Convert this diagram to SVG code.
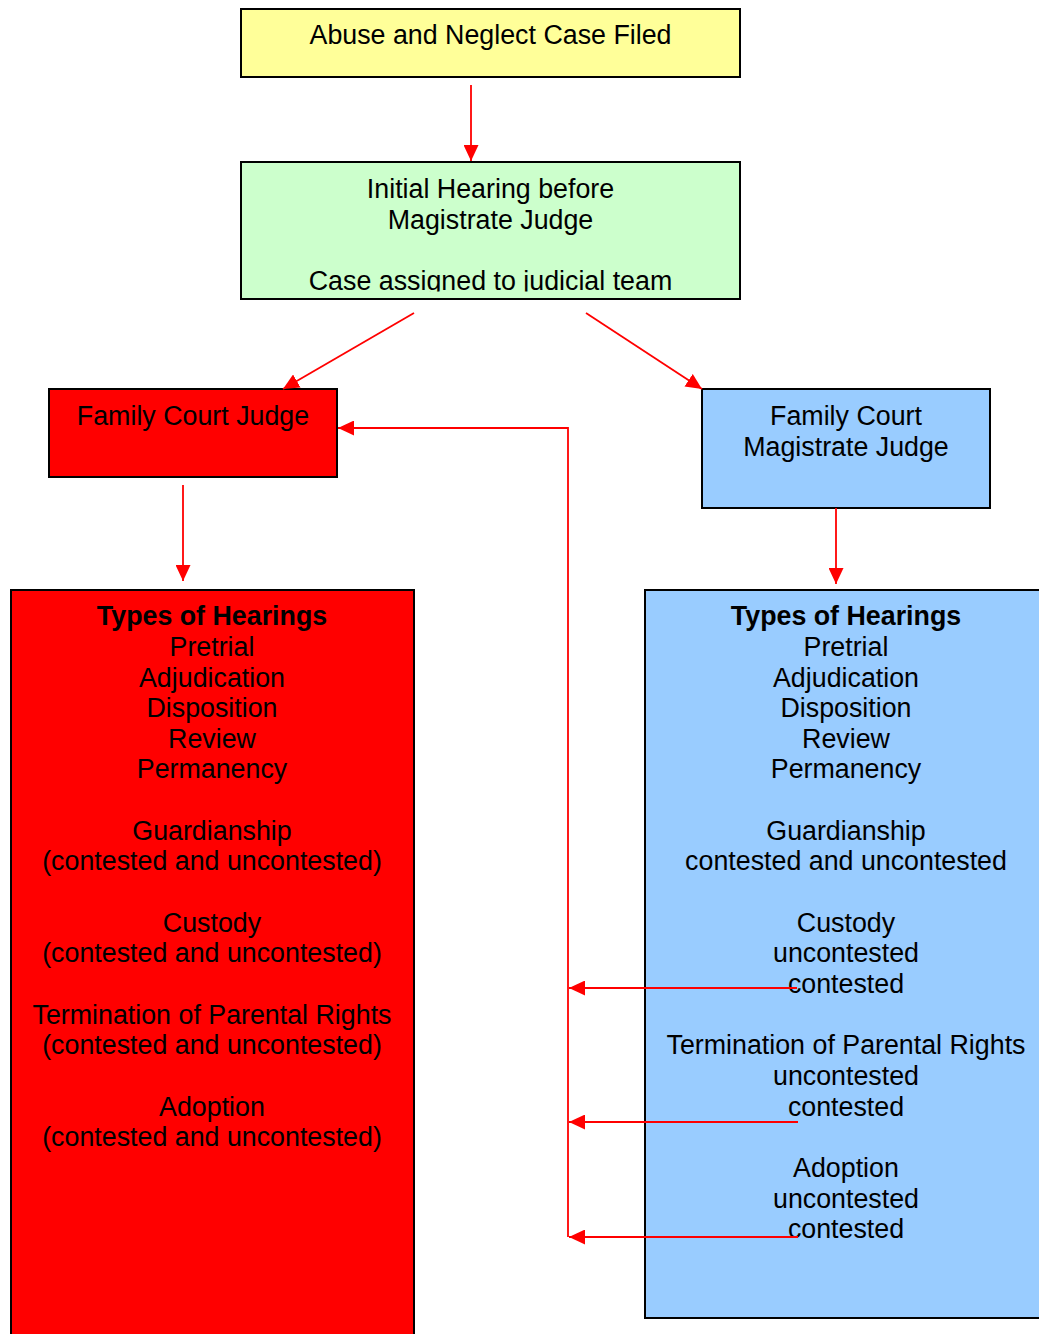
<svg xmlns="http://www.w3.org/2000/svg" width="1039" height="1334" viewBox="0 0 1039 1334">
<defs>
<style>
.box{stroke:#000;stroke-width:2}
.t{font-family:"Liberation Sans",Arial,sans-serif;font-size:26.8px;fill:#000;text-anchor:middle}
.b{font-weight:bold}
.c{stroke:#ff0000;stroke-width:1.8;fill:none}
</style>
<marker id="ah" viewBox="0 0 16 15" refX="16" refY="7.5" markerWidth="16" markerHeight="15" markerUnits="userSpaceOnUse" orient="auto">
<path d="M0,0 L16,7.5 L0,15 z" fill="#ff0000"/>
</marker>
<clipPath id="gclip"><rect x="241" y="162" width="499" height="129.5"/></clipPath>
</defs>
<rect width="1039" height="1334" fill="#fff"/>

<g id="filed">
<rect class="box" x="241" y="9" width="499" height="68" fill="#ffff99"/>
<text class="t" x="490.5" y="44">Abuse and Neglect Case Filed</text>
</g>

<g id="initial">
<rect class="box" x="241" y="162" width="499" height="137" fill="#ccffcc"/>
<g clip-path="url(#gclip)">
<text class="t" x="490.5" y="198">Initial Hearing before</text>
<text class="t" x="490.5" y="228.5">Magistrate Judge</text>
<text class="t" x="490.5" y="289.5">Case assigned to judicial team</text>
</g>
</g>

<g id="fcj">
<rect class="box" x="49" y="389" width="288" height="88" fill="#ff0000"/>
<text class="t" x="193" y="425">Family Court Judge</text>
</g>

<g id="fcmj">
<rect class="box" x="702" y="389" width="288" height="119" fill="#99ccff"/>
<text class="t" x="846" y="425">Family Court</text>
<text class="t" x="846" y="456">Magistrate Judge</text>
</g>

<g id="types-red">
<rect class="box" x="11" y="590" width="403" height="760" fill="#ff0000"/>
<text class="t b" x="212" y="625">Types of Hearings</text>
<text class="t" x="212" y="656">Pretrial</text>
<text class="t" x="212" y="687">Adjudication</text>
<text class="t" x="212" y="717">Disposition</text>
<text class="t" x="212" y="748">Review</text>
<text class="t" x="212" y="778">Permanency</text>
<text class="t" x="212" y="840">Guardianship</text>
<text class="t" x="212" y="870">(contested and uncontested)</text>
<text class="t" x="212" y="932">Custody</text>
<text class="t" x="212" y="962">(contested and uncontested)</text>
<text class="t" x="212" y="1024">Termination of Parental Rights</text>
<text class="t" x="212" y="1054">(contested and uncontested)</text>
<text class="t" x="212" y="1116">Adoption</text>
<text class="t" x="212" y="1146">(contested and uncontested)</text>
</g>

<g id="types-blue">
<rect class="box" x="645" y="590" width="410" height="728" fill="#99ccff"/>
<text class="t b" x="846" y="625">Types of Hearings</text>
<text class="t" x="846" y="656">Pretrial</text>
<text class="t" x="846" y="687">Adjudication</text>
<text class="t" x="846" y="717">Disposition</text>
<text class="t" x="846" y="748">Review</text>
<text class="t" x="846" y="778">Permanency</text>
<text class="t" x="846" y="840">Guardianship</text>
<text class="t" x="846" y="870">contested and uncontested</text>
<text class="t" x="846" y="932">Custody</text>
<text class="t" x="846" y="962">uncontested</text>
<text class="t" x="846" y="993">contested</text>
<text class="t" x="846" y="1054">Termination of Parental Rights</text>
<text class="t" x="846" y="1085">uncontested</text>
<text class="t" x="846" y="1116">contested</text>
<text class="t" x="846" y="1177">Adoption</text>
<text class="t" x="846" y="1208">uncontested</text>
<text class="t" x="846" y="1238">contested</text>
</g>

<g id="connectors">
<line class="c" x1="471" y1="85" x2="471" y2="161" marker-end="url(#ah)"/>
<line class="c" x1="414" y1="313" x2="283" y2="389" marker-end="url(#ah)"/>
<line class="c" x1="586" y1="313" x2="702" y2="389" marker-end="url(#ah)"/>
<line class="c" x1="183" y1="485" x2="183" y2="581" marker-end="url(#ah)"/>
<line class="c" x1="836" y1="508" x2="836" y2="584" marker-end="url(#ah)"/>
<polyline class="c" points="568,1237 568,428 338,428" marker-end="url(#ah)"/>
<line class="c" x1="797" y1="988" x2="569" y2="988" marker-end="url(#ah)"/>
<line class="c" x1="798" y1="1122" x2="569" y2="1122" marker-end="url(#ah)"/>
<line class="c" x1="798" y1="1237" x2="569" y2="1237" marker-end="url(#ah)"/>
</g>
</svg>
